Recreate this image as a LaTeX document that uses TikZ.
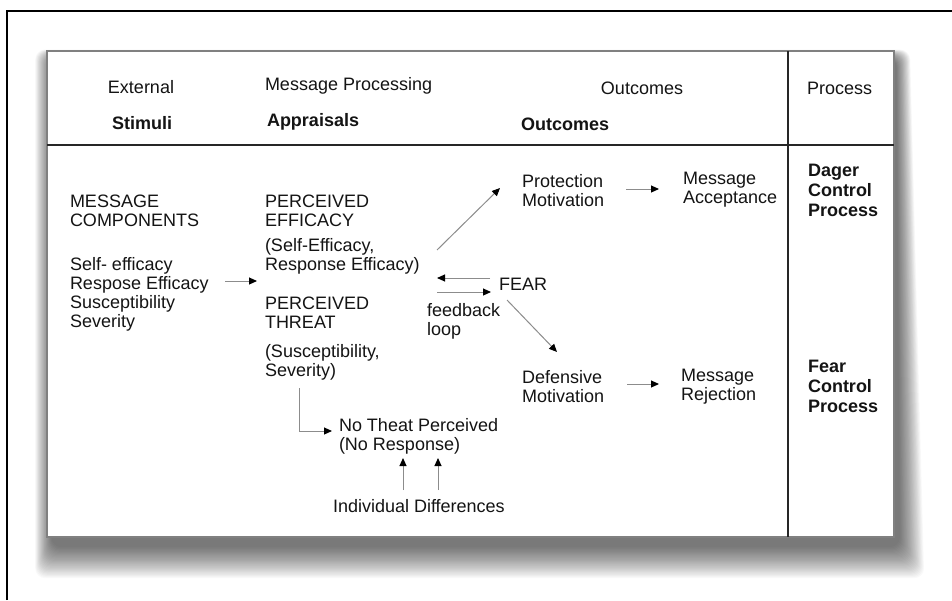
\documentclass[tikz,border=0pt]{standalone}
\usepackage{fontspec}
\setmainfont{Liberation Sans}
\usetikzlibrary{arrows.meta}
\begin{document}
\begin{tikzpicture}[x=1pt,y=-1pt,
  txt/.style={inner sep=0pt, outer sep=0pt, text=black!92, font=\fontsize{18}{19}\selectfont},
  blk/.style={txt, anchor=north west, align=left},
  bblk/.style={blk, font=\fontsize{18}{20}\selectfont\bfseries},
  one/.style={txt, anchor=base west},
  conn/.style={draw=black!45, line width=1pt, -{Triangle[length=8pt,width=7pt,color=black]}},
]
\useasboundingbox (0,0) rectangle (952,600);
\fill[white] (0,0) rectangle (952,600);
% outer frame
\draw[black, line width=1.3pt] (7,600) -- (7,11) -- (952,11);
% shadow (soft, heavier toward the bottom right)
\foreach \i in {1,...,28}{
  \fill[black, fill opacity=0.024, rounded corners=10pt]
    (52-\i*0.6, 58-\i*0.3) -- (896+\i*0.5, 58-\i*0.3) -- (899+\i*0.9, 546+\i*1.15) -- (52-\i*0.6, 546+\i*1.15) -- cycle;
}
% main box
\fill[white] (47,51) rectangle (894,537);
\draw[black!50, line width=1.5pt] (47,51) rectangle (894,537);
\draw[black!85, line width=2pt] (47,145) -- (894,145);
\draw[black!85, line width=2pt] (788,51) -- (788,537);

% header
\node[txt, anchor=base] (hext) at (141,93) {External};
\node[txt, anchor=base, font=\fontsize{18}{19}\selectfont\bfseries] (hstim) at (142,129) {Stimuli};
\node[one] (hmp) at (265,90) {Message Processing};
\node[one, font=\fontsize{18}{19}\selectfont\bfseries] (happ) at (267,126) {Appraisals};
\node[txt, anchor=base] (hout) at (642,94) {Outcomes};
\node[one, font=\fontsize{18}{19}\selectfont\bfseries] (hout2) at (521,130) {Outcomes};
\node[one] (hproc) at (807,94) {Process};

% body
\node[blk] (mc) at (70,195) {MESSAGE\\COMPONENTS};
\node[blk] (comp) at (70,257) {Self- efficacy\\Respose Efficacy\\Susceptibility\\Severity};
\node[blk] (eff) at (265,195) {PERCEIVED\\EFFICACY};
\node[blk] (eff2) at (265,238) {(Self-Efficacy,\\Response Efficacy)};
\node[blk] (thr) at (265,297) {PERCEIVED\\THREAT};
\node[blk] (thr2) at (265,344) {(Susceptibility,\\Severity)};
\node[blk] (prot) at (522,174) {Protection\\Motivation};
\node[blk] (acc) at (683,172) {Message\\Acceptance};
\node[bblk] (dcp) at (808,164) {Dager\\Control\\Process};
\node[one] (fear) at (499,290) {FEAR};
\node[blk] (fb) at (427,303) {feedback\\loop};
\node[blk] (def) at (522,370) {Defensive\\Motivation};
\node[blk] (rej) at (681,369) {Message\\Rejection};
\node[bblk] (fcp) at (808,360) {Fear\\Control\\Process};
\node[blk] (nt) at (339,418) {No Theat Perceived\\(No Response)};
\node[one] (ind) at (333,512) {Individual Differences};

% connector end points
\coordinate (c1a) at (225,281);  \coordinate (c1b) at (257,281);
\coordinate (c2a) at (437,250);  \coordinate (c2b) at (500,188);
\coordinate (c3a) at (490,278);  \coordinate (c3b) at (437,278);
\coordinate (c4a) at (437,292);  \coordinate (c4b) at (491,292);
\coordinate (c5a) at (507,300);  \coordinate (c5b) at (557,352);
\coordinate (c6a) at (626,189);  \coordinate (c6b) at (659,189);
\coordinate (c7a) at (627,384);  \coordinate (c7b) at (659,384);
\coordinate (c8a) at (299,388);  \coordinate (c8b) at (332,431);
\coordinate (c9a) at (403,490);  \coordinate (c9b) at (403,458);
\coordinate (c10a) at (438,490); \coordinate (c10b) at (438,458);

\draw[conn] (c1a) -- (c1b);
\draw[conn] (c2a) -- (c2b);
\draw[conn] (c3a) -- (c3b);
\draw[conn] (c4a) -- (c4b);
\draw[conn] (c5a) -- (c5b);
\draw[conn] (c6a) -- (c6b);
\draw[conn] (c7a) -- (c7b);
\draw[conn] (c8a) |- (c8b);
\draw[conn] (c9a) -- (c9b);
\draw[conn] (c10a) -- (c10b);
\end{tikzpicture}
\end{document}
